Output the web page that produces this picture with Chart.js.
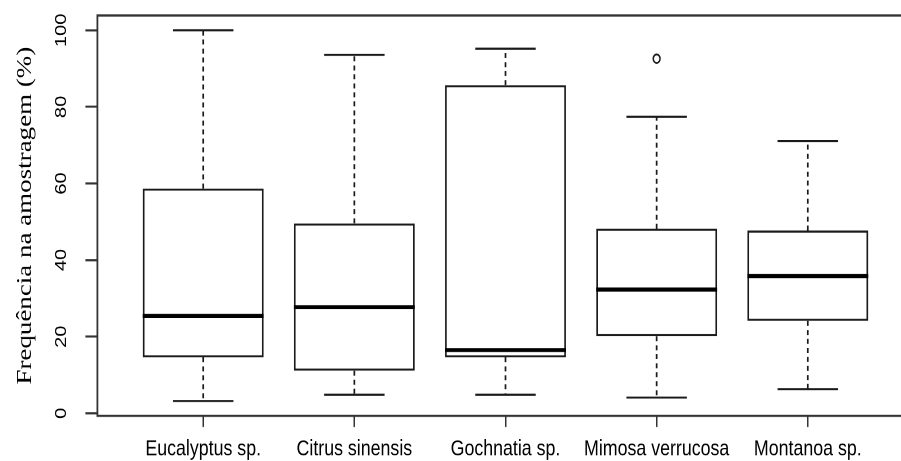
<!DOCTYPE html>
<html>
<head>
<meta charset="utf-8">
<script src="https://cdn.jsdelivr.net/npm/chart.js@4/dist/chart.umd.min.js"></script>
<style>
html,body{margin:0;padding:0;background:#fff;overflow:hidden;width:901px;height:461px}
canvas{display:block}
</style>
</head>
<body>
<canvas id="c" width="920" height="369" style="width:920px;height:461px"></canvas>
<script>
// ---- data ----
const categories  = ['Eucalyptus sp.', 'Citrus sinensis', 'Gochnatia sp.', 'Mimosa verrucosa', 'Montanoa sp.'];
const whiskerLow  = [3.2, 4.8, 4.8, 4.1, 6.3];
const quartile1   = [14.6, 11.1, 14.6, 20.1, 24.1];
const medianVals  = [25.4, 27.7, 16.5, 32.3, 35.8];
const quartile3   = [58.7, 49.6, 85.7, 48.2, 47.7];
const whiskerHigh = [100, 93.6, 95.2, 77.4, 71.1];
const outlierCategory = [3];      // index into categories
const outlierValue    = [92.6];
const yTickValues = [0, 20, 40, 60, 80, 100];
const yTitle = 'Frequência na amostragem (%)';

// ---- styles ----
const INK = '#1a1a1a';
const CAP_HALF = 0.2;   // cap half-width in category units

const boxData = categories.map((c, i) => ({ x: i + 1, y: [quartile1[i], quartile3[i]] }));
const outData = outlierCategory.map((ci, k) => ({ x: ci + 1, y: outlierValue[k] }));

const boxParts = {
  id: 'boxParts',
  afterDatasetsDraw(chart) {
    const { ctx, scales: { x, y } } = chart;
    const bars = chart.getDatasetMeta(0).data;
    ctx.save();
    ctx.strokeStyle = INK;
    categories.forEach((c, i) => {
      const p = i + 1;
      const cx = x.getPixelForValue(p);
      const cl = x.getPixelForValue(p - CAP_HALF);
      const cr = x.getPixelForValue(p + CAP_HALF);
      // dashed whiskers
      ctx.setLineDash([4, 3.2]);
      ctx.lineWidth = 1.7;
      ctx.beginPath();
      ctx.moveTo(cx, y.getPixelForValue(quartile3[i]));
      ctx.lineTo(cx, y.getPixelForValue(whiskerHigh[i]));
      ctx.moveTo(cx, y.getPixelForValue(quartile1[i]));
      ctx.lineTo(cx, y.getPixelForValue(whiskerLow[i]));
      ctx.stroke();
      // caps
      ctx.setLineDash([]);
      ctx.lineWidth = 1.7;
      ctx.beginPath();
      ctx.moveTo(cl, y.getPixelForValue(whiskerHigh[i]));
      ctx.lineTo(cr, y.getPixelForValue(whiskerHigh[i]));
      ctx.moveTo(cl, y.getPixelForValue(whiskerLow[i]));
      ctx.lineTo(cr, y.getPixelForValue(whiskerLow[i]));
      ctx.stroke();
      // median
      const b = bars[i];
      ctx.strokeStyle = '#000';
      ctx.lineWidth = 3.2;
      ctx.beginPath();
      ctx.moveTo(b.x - b.width / 2, y.getPixelForValue(medianVals[i]));
      ctx.lineTo(b.x + b.width / 2, y.getPixelForValue(medianVals[i]));
      ctx.stroke();
      ctx.strokeStyle = INK;
    });
    ctx.restore();
  },
  afterDraw(chart) {
    const { ctx, chartArea: a } = chart;
    ctx.save();
    ctx.strokeStyle = '#333';
    ctx.lineWidth = 1.8;
    ctx.strokeRect(a.left, a.top, a.right - a.left, a.bottom - a.top);
    ctx.restore();
  }
};

new Chart(document.getElementById('c'), {
  type: 'bar',
  data: {
    datasets: [
      {
        type: 'bar',
        data: boxData,
        backgroundColor: '#ffffff',
        borderColor: INK,
        borderWidth: 1.8,
        borderSkipped: false,
        barPercentage: 0.8,
        categoryPercentage: 1.0,
        order: 2
      },
      {
        type: 'scatter',
        data: outData,
        pointStyle: 'circle',
        pointRadius: 3.4,
        pointBorderWidth: 1.5,
        pointBackgroundColor: '#ffffff',
        pointBorderColor: INK,
        order: 1
      }
    ]
  },
  options: {
    responsive: false,
    devicePixelRatio: 2,
    animation: false,
    events: [],
    layout: { padding: { left: 0, top: 12.4, right: 6.4, bottom: 0 } },
    plugins: { legend: { display: false }, tooltip: { enabled: false } },
    scales: {
      x: {
        type: 'linear',
        min: 0.3,
        max: 5.7,
        offset: false,
        border: { display: false },
        grid: { display: true, drawOnChartArea: false, drawTicks: true, tickLength: 9, color: '#333', lineWidth: 1.5, offset: false },
        afterBuildTicks(scale) { scale.ticks = categories.map((c, i) => ({ value: i + 1 })); },
        ticks: {
          autoSkip: false,
          maxRotation: 0,
          minRotation: 0,
          padding: 7,
          color: '#000',
          font: { family: "'Liberation Sans', Arial, sans-serif", size: 17.8 },
          callback: (v) => categories[v - 1] ?? ''
        },
        afterFit(scale) { scale.height = 36.2; scale.paddingLeft = 0; scale.paddingRight = 0; }
      },
      y: {
        type: 'linear',
        min: -0.67,
        max: 103.87,
        border: { display: false },
        grid: { display: true, drawOnChartArea: false, drawTicks: true, tickLength: 12, color: '#333', lineWidth: 1.7 },
        afterBuildTicks(scale) { scale.ticks = yTickValues.map(v => ({ value: v })); },
        ticks: {
          minRotation: 90,
          maxRotation: 90,
          crossAlign: 'center',
          padding: 10.4,
          color: '#000',
          font: { family: "'Liberation Sans', Arial, sans-serif", size: 16 },
          callback: (v) => String(v)
        },
        title: {
          display: true,
          text: yTitle,
          color: '#000',
          font: { family: "'Liberation Serif', 'Times New Roman', serif", size: 21.6 },
          padding: { top: 12.5, bottom: 0 }
        },
        afterFit(scale) { scale.width = 97.4; scale.paddingTop = 0; scale.paddingBottom = 0; }
      }
    }
  },
  plugins: [boxParts]
});
</script>
</body>
</html>
